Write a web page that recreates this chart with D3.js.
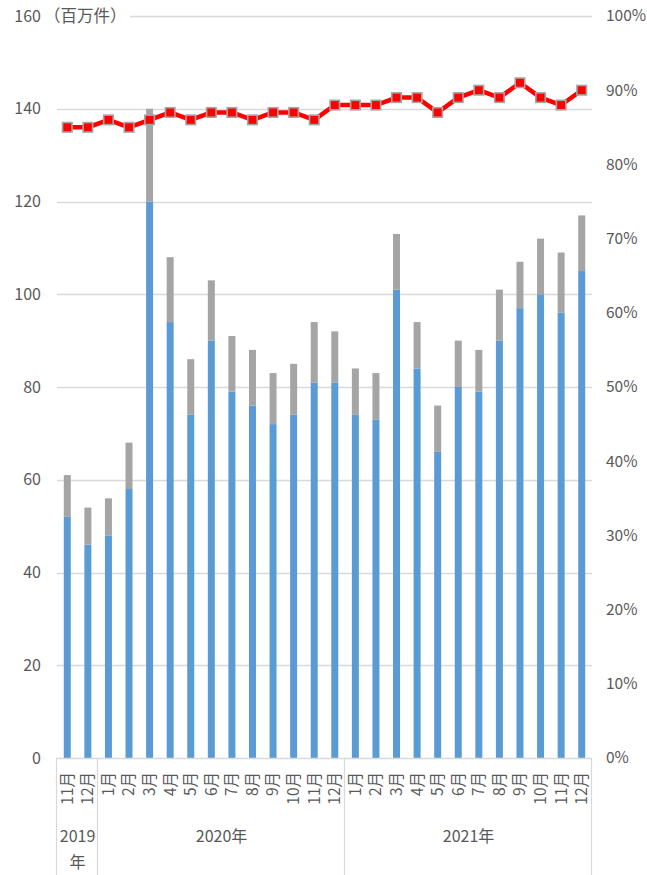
<!DOCTYPE html>
<html>
<head>
<meta charset="utf-8">
<script src="https://cdn.jsdelivr.net/npm/d3@7"></script>
<style>
  html, body { margin: 0; padding: 0; background: #fff; }
  svg { display: block; }
  text { font-family: "Noto Sans CJK JP", "Noto Sans", sans-serif; fill: #595959; }
</style>
</head>
<body>
<svg id="chart" width="647" height="875"></svg>
<script>
// ---- data ----
const months = ["11月","12月",
  "1月","2月","3月","4月","5月","6月","7月","8月","9月","10月","11月","12月",
  "1月","2月","3月","4月","5月","6月","7月","8月","9月","10月","11月","12月"];
const yearLabels = ["2019年", "2020年", "2021年"];
const yearSpans = [2, 12, 12];
// lower (blue) segment, millions
const blueValues = [52,46,48,58,120,94,74,90,79,76,72,74,81,81,74,73,101,84,66,80,79,90,97,100,96,105];
// upper (gray) segment, millions
const grayValues = [9,8,8,10,20,14,12,13,12,12,11,11,13,11,10,10,12,10,10,10,9,11,10,12,13,12];
// ratio line, percent (right axis)
const rateValues = [85,85,86,85,86,87,86,87,87,86,87,87,86,88,88,88,89,89,87,89,90,89,91,89,88,90];
const leftTicks = [0,20,40,60,80,100,120,140,160];
const rightTicks = [0,10,20,30,40,50,60,70,80,90,100];
const unitLabel = "（百万件）";

// ---- layout ----
const L = 57, R = 592, T = 16, B = 758;
const svg = d3.select("#chart");
const idx = d3.range(months.length);

const x = d3.scaleBand().domain(idx).range([L, R]).paddingInner(0.66).paddingOuter(0.33);
const yL = d3.scaleLinear().domain([0, 160]).range([B, T]);
const yR = d3.scaleLinear().domain([0, 100]).range([B, T]);

const gridColor = "#D9D9D9";

// gridlines
svg.append("g").selectAll("line").data(leftTicks.filter(d => d > 0)).join("line")
  .attr("x1", L).attr("x2", R)
  .attr("y1", d => Math.round(yL(d)) + 0.5).attr("y2", d => Math.round(yL(d)) + 0.5)
  .attr("stroke", gridColor).attr("stroke-width", 1.3);

// left axis labels
const leftAxis = d3.axisLeft(yL).tickValues(leftTicks).tickSize(0).tickPadding(16);
const gL = svg.append("g").attr("transform", `translate(${L},0)`).call(leftAxis);
gL.select(".domain").remove();
gL.selectAll("text").style("font-size", "16px").attr("fill", "#595959")
  .attr("font-family", "Noto Sans CJK JP");

// right axis labels
const rightAxis = d3.axisRight(yR).tickValues(rightTicks).tickSize(0).tickPadding(14)
  .tickFormat(d => d + "%");
const gR = svg.append("g").attr("transform", `translate(${R},0)`).call(rightAxis);
gR.select(".domain").remove();
gR.selectAll("text").style("font-size", "15.5px").attr("fill", "#595959")
  .attr("font-family", "Noto Sans CJK JP");

// unit label with white background
const uG = svg.append("g");
uG.append("rect").attr("x", 46).attr("y", 5).attr("width", 84).attr("height", 22).attr("fill", "#fff");
uG.append("text").attr("x", 44).attr("y", yL(160)).attr("dy", "0.35em")
  .style("font-size", "16.5px").text(unitLabel);

// stacked bars
const stacked = idx.map(i => ({ i, b: blueValues[i], g: grayValues[i] }));
const bw = x.bandwidth();
svg.append("g").selectAll("rect").data(stacked).join("rect")
  .attr("x", d => x(d.i)).attr("width", bw)
  .attr("y", d => yL(d.b)).attr("height", d => yL(0) - yL(d.b))
  .attr("fill", "#5B9BD5");
svg.append("g").selectAll("rect").data(stacked).join("rect")
  .attr("x", d => x(d.i)).attr("width", bw)
  .attr("y", d => yL(d.b + d.g)).attr("height", d => yL(d.b) - yL(d.b + d.g))
  .attr("fill", "#A5A5A5");

// x axis line
svg.append("line").attr("x1", L).attr("x2", R).attr("y1", B + 0.5).attr("y2", B + 0.5)
  .attr("stroke", gridColor).attr("stroke-width", 1.3);

// group separators
const step = x.step();
let bounds = [0];
yearSpans.forEach(s => bounds.push(bounds[bounds.length - 1] + s));
svg.append("g").selectAll("line").data(bounds).join("line")
  .attr("x1", k => Math.round(L + step * k) - 0.5).attr("x2", k => Math.round(L + step * k) - 0.5)
  .attr("y1", B).attr("y2", 875)
  .attr("stroke", gridColor).attr("stroke-width", 1.3);

// month labels (rotated)
svg.append("g").selectAll("text").data(idx).join("text")
  .attr("transform", i => `translate(${x(i) + bw / 2},772) rotate(-90)`)
  .attr("text-anchor", "end").attr("dy", "0.35em")
  .style("font-size", "15.5px").text(i => months[i]);

// year labels
yearLabels.forEach((lab, j) => {
  const cx = L + step * (bounds[j] + bounds[j + 1]) / 2;
  if (yearSpans[j] <= 2) {
    const num = lab.replace("年", "");
    svg.append("text").attr("x", cx).attr("y", 836).attr("dy", "0.35em")
      .attr("text-anchor", "middle").style("font-size", "16px").text(num);
    svg.append("text").attr("x", cx).attr("y", 862).attr("dy", "0.35em")
      .attr("text-anchor", "middle").style("font-size", "16px").text("年");
  } else {
    svg.append("text").attr("x", cx).attr("y", 836).attr("dy", "0.35em")
      .attr("text-anchor", "middle").style("font-size", "16px").text(lab);
  }
});

// rate line
const line = d3.line().x(i => x(i) + bw / 2).y(i => yR(rateValues[i]));
svg.append("path").datum(idx).attr("d", line)
  .attr("fill", "none").attr("stroke", "#FF0000").attr("stroke-width", 4.5)
  .attr("stroke-linejoin", "round");
const ms = 9.5;
svg.append("g").selectAll("rect").data(idx).join("rect")
  .attr("x", i => x(i) + bw / 2 - ms / 2).attr("y", i => yR(rateValues[i]) - ms / 2)
  .attr("width", ms).attr("height", ms)
  .attr("fill", "#FF0000").attr("stroke", "#A5A5A5").attr("stroke-width", 1.6);
</script>
</body>
</html>
